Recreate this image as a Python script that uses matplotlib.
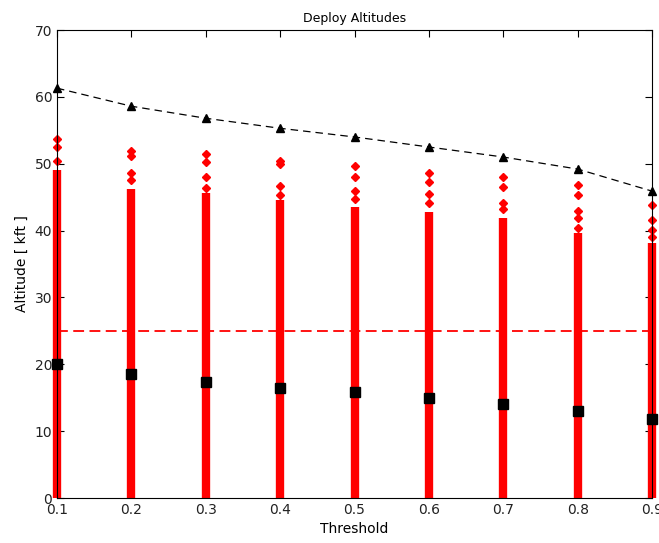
import matplotlib
matplotlib.use('Agg')
import matplotlib.pyplot as plt

# threshold settings
thresholds = [0.1, 0.2, 0.3, 0.4, 0.5, 0.6, 0.7, 0.8, 0.9]

# max / mean deploy altitude per threshold [kft]
max_alt = [61.3, 58.6, 56.8, 55.3, 54.0, 52.5, 51.0, 49.2, 45.9]
mean_alt = [20.1, 18.5, 17.3, 16.4, 15.9, 15.0, 14.1, 13.0, 11.8]

# densely packed runs go from 0 up to these altitudes
dense_top = [49.0, 46.2, 45.6, 44.6, 43.5, 42.8, 41.9, 39.6, 38.1]

# scattered higher runs per threshold
sparse_alt = [
    [53.7, 52.5, 50.4],
    [51.9, 51.2, 48.6, 47.6],
    [51.4, 50.3, 48.0, 46.4],
    [50.4, 50.0, 46.7, 45.3],
    [49.7, 48.0, 45.9, 44.7],
    [48.6, 47.3, 45.5, 44.1],
    [48.0, 46.5, 44.1, 43.2],
    [46.8, 45.3, 42.9, 41.9, 40.4],
    [43.8, 41.6, 40.1, 39.0],
]

target_alt = 25

plt.rcParams['font.family'] = 'DejaVu Sans'
fig = plt.figure(figsize=(6.59, 5.43), dpi=100)
ax = fig.add_axes([57 / 659, 45 / 543, 595 / 659, 468 / 543])

# red columns of individual run altitudes
ax.vlines(thresholds, 0, dense_top, colors='red', linewidth=6, clip_on=False, zorder=2)
for t, vals in zip(thresholds, sparse_alt):
    ax.plot([t] * len(vals), vals, 'D', color='red', markersize=4.5,
            linestyle='none', clip_on=False, zorder=2)

ax.plot([thresholds[0], thresholds[-1]], [target_alt, target_alt], '--', color='red',
        linewidth=1.3, dashes=(6, 3), zorder=3)

ax.plot(thresholds, max_alt, '--', color='black', linewidth=0.9, dashes=(6, 4),
        marker='^', markersize=6, clip_on=False, zorder=4)
ax.plot(thresholds, mean_alt, 's', color='black', markersize=6.5,
        linestyle='none', clip_on=False, zorder=4)

ax.set_xlim(0.1, 0.9)
ax.set_ylim(0, 70)
ax.set_xticks(thresholds)
ax.set_xticklabels(['%.1f' % t for t in thresholds])
ax.set_yticks(range(0, 71, 10))
ax.tick_params(direction='in', top=True, right=True, length=5, labelsize=10,
               labelcolor='#222222')
for s in ax.spines.values():
    s.set_zorder(5)

ax.set_title('Deploy Altitudes', fontsize=9)
ax.set_xlabel('Threshold', fontsize=10)
ax.set_ylabel('Altitude [ kft ]', fontsize=10)

fig.savefig('out.png', dpi=100)
